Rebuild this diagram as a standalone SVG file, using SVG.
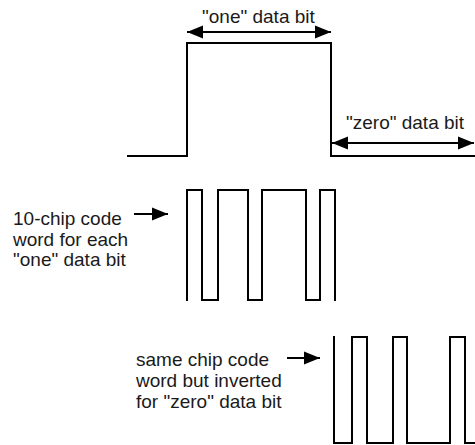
<svg xmlns="http://www.w3.org/2000/svg" width="475" height="445" viewBox="0 0 475 445">
  <style>
    .wave { fill: none; stroke: #000; stroke-width: 2; stroke-linejoin: miter; stroke-linecap: square; }
    .arrow { fill: none; stroke: #000; stroke-width: 2.2; }
    .label { font-family: "Liberation Sans", Arial, sans-serif; font-size: 19px; fill: #1a1a1a; }
  </style>
  <defs>
    <marker id="head" markerUnits="userSpaceOnUse" markerWidth="18" markerHeight="14" refX="16" refY="7" orient="auto-start-reverse" viewBox="0 0 18 14">
      <path d="M0,0.5 L16,7 L0,13.5 z" fill="#000"/>
    </marker>
  </defs>

  <!-- data bit waveform -->
  <g id="data-waveform">
    <path class="wave" d="M128,156 H187 V43 H331 V156 H476"/>
  </g>

  <!-- chip sequence for a "one" bit: 1 0 1 1 0 1 1 1 0 1 -->
  <g id="chip-one">
    <path class="wave" d="M187,300 V190 H202 V300 H218 V190 H248 V300 H262 V190 H306 V300 H320 V190 H335 V300"/>
  </g>

  <!-- inverted chip sequence for a "zero" bit -->
  <g id="chip-zero">
    <path class="wave" d="M334,337 V443 H352 V337 H367 V443 H393 V337 H407 V443 H450 V337 H465 V443 H476"/>
  </g>

  <g id="label-one">
    <text class="label" x="202" y="23">"one" data bit</text>
  </g>
  <g id="label-zero">
    <text class="label" x="346" y="129">"zero" data bit</text>
  </g>
  <g id="label-chip-one">
    <text class="label" x="13" y="225">10-chip code</text>
    <text class="label" x="13" y="246">word for each</text>
    <text class="label" x="13" y="266">"one" data bit</text>
  </g>
  <g id="label-chip-zero">
    <text class="label" x="136" y="366">same chip code</text>
    <text class="label" x="136" y="387">word but inverted</text>
    <text class="label" x="136" y="408">for "zero" data bit</text>
  </g>

  <!-- connectors -->
  <g id="connectors">
    <line class="arrow" x1="187" y1="32" x2="331" y2="32" marker-start="url(#head)" marker-end="url(#head)"/>
    <line class="arrow" x1="332" y1="143" x2="474" y2="143" marker-start="url(#head)" marker-end="url(#head)"/>
    <line class="arrow" x1="134" y1="214" x2="168" y2="214" marker-end="url(#head)"/>
    <line class="arrow" x1="287" y1="358" x2="320" y2="358" marker-end="url(#head)"/>
  </g>
</svg>
